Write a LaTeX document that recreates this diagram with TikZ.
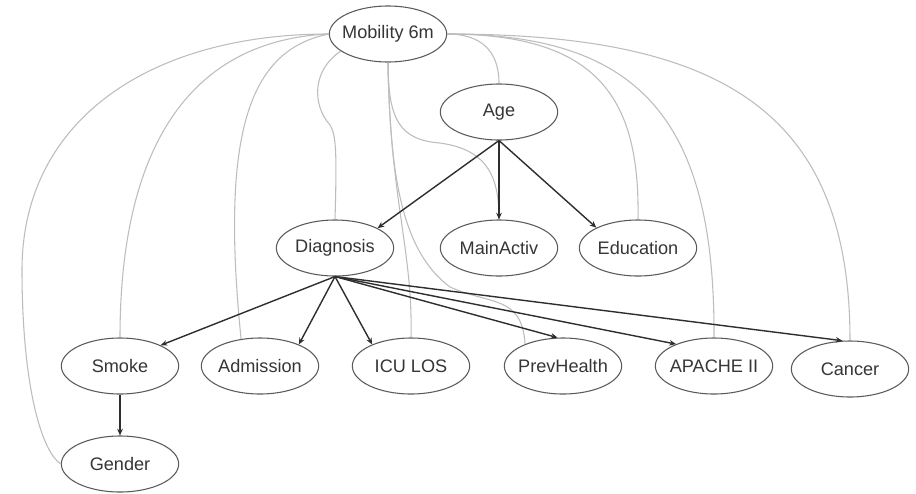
\documentclass[tikz,border=0pt]{standalone}
\usepackage{fontspec}
\setmainfont{Liberation Sans}
\usetikzlibrary{shapes.geometric,arrows.meta}
\definecolor{txt}{HTML}{363636}
\definecolor{rim}{HTML}{5A5A5A}
\definecolor{dep}{HTML}{2E2E2E}
\definecolor{assoc}{HTML}{BDBDBD}
% labels do not widen the ellipses: all variables share one size
\newcommand\vlab[1]{\makebox[0pt]{#1}}
\begin{document}
\begin{tikzpicture}[x=0.75pt,y=-0.75pt,
  var/.style={ellipse,draw=rim,line width=0.8pt,inner sep=0pt,
    minimum width=88pt,minimum height=42pt,text=txt,
    font=\fontsize{13.6}{15}\selectfont},
  dep/.style={draw=dep,line width=1.05pt,-{Stealth[length=5pt,width=4.2pt]}},
  assoc/.style={draw=assoc,line width=0.8pt}]
\useasboundingbox (0,0) rectangle (916,493);
\fill[white] (0,0) rectangle (916,493);

% variables
\node[var] (mob)  at (388,34)  {\vlab{Mobility 6m}};
\node[var] (age)  at (499,112) {\vlab{Age}};
\node[var] (diag) at (335,248) {\vlab{Diagnosis}};
\node[var] (main) at (499,248) {\vlab{MainActiv}};
\node[var] (edu)  at (638,248) {\vlab{Education}};
\node[var] (smk)  at (120,366) {\vlab{Smoke}};
\node[var] (adm)  at (260,366) {\vlab{Admission}};
\node[var] (icu)  at (411,366) {\vlab{ICU LOS}};
\node[var] (prev) at (563,366) {\vlab{PrevHealth}};
\node[var] (apa)  at (714,366) {\vlab{APACHE II}};
\node[var] (can)  at (850,369) {\vlab{Cancer}};
\node[var] (gen)  at (120,464) {\vlab{Gender}};

% undirected links of Mobility 6m
\draw[assoc] (mob.west) .. controls (150,34) and (22,120) .. (22,270)
  .. controls (22,380) and (40,450) .. (gen.west);
\draw[assoc] (mob.west) .. controls (195,40) and (120,140) .. (smk.north);
\draw[assoc] (mob.west) .. controls (250,50) and (220,130) .. (adm.125);
\draw[assoc] (mob.200) .. controls (312,70) and (312,105) .. (330,125)
  .. controls (336,135) and (337,150) .. (diag.north);
\draw[assoc] (mob.south) .. controls (390,200) and (413,250) .. (icu.north);
\draw[assoc] (mob.south) .. controls (388,120) and (400,140) .. (440,143)
  .. controls (490,150) and (499,180) .. (main.north);
\draw[assoc] (mob.south) .. controls (390,170) and (400,250) .. (450,287)
  .. controls (490,305) and (522,295) .. (prev.150);
\draw[assoc] (mob.east) .. controls (480,34) and (499,50) .. (age.north);
\draw[assoc] (mob.east) .. controls (600,34) and (640,100) .. (edu.north);
\draw[assoc] (mob.east) .. controls (640,34) and (715,120) .. (apa.north);
\draw[assoc] (mob.east) .. controls (720,34) and (850,110) .. (can.north);

% directed dependencies
\draw[dep] (age.south) -- (diag.25);
\draw[dep] (age.south) -- (main.north);
\draw[dep] (age.south) -- (edu.154);
\draw[dep] (diag.south) -- (smk.27);
\draw[dep] (diag.south) -- (adm.29);
\draw[dep] (diag.south) -- (icu.151);
\draw[dep] (diag.south) -- (prev.101);
\draw[dep] (diag.south) -- (apa.150);
\draw[dep] (diag.south) -- (can.105);
\draw[dep] (smk.south) -- (gen.north);
\end{tikzpicture}
\end{document}
